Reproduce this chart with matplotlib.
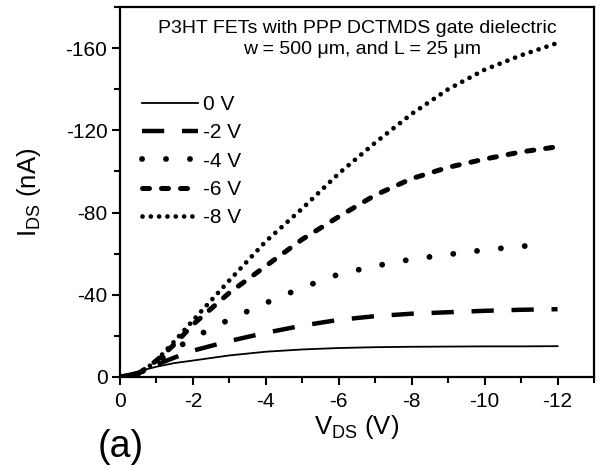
import numpy as np
import matplotlib
matplotlib.use("Agg")
import matplotlib.pyplot as plt
from matplotlib.ticker import MultipleLocator

plt.rcParams['font.family'] = ['Liberation Sans', 'DejaVu Sans']
plt.rcParams['axes.unicode_minus'] = False
plt.rcParams['mathtext.fontset'] = 'custom'
plt.rcParams['mathtext.rm'] = 'Liberation Sans'

# drain voltage (V) and drain current (nA)
vds = [0, -0.5, -1, -1.5, -2, -3, -4, -5, -6, -7, -8, -9, -10, -11, -12]
ids_0v = [0, -2.7, -5, -6.8, -8, -10.5, -12.3, -13.4, -14.1, -14.5, -14.7, -14.8, -14.9, -14.9, -15]
ids_2v = [0, -2, -6, -9.5, -12.8, -17.5, -21.5, -25, -27.8, -29.6, -30.8, -31.5, -32.2, -32.7, -33]
ids_4v = [0, -1.5, -7, -13.5, -19, -28, -36, -43.5, -50, -54, -57.3, -59.6, -61.8, -63.6, -64.6]
ids_6v = [0, -1.5, -8, -16, -25.5, -41, -54, -67, -78, -88.5, -96.5, -102, -106, -109.5, -112]
ids_8v = [0, -1, -8, -17.5, -27.5, -47, -66, -82, -99, -114, -128, -140, -149.5, -156.5, -162.5]
gate_labels = ['0 V', '-2 V', '-4 V', '-6 V', '-8 V']

fig = plt.figure(figsize=(6.01, 4.70), dpi=100)
ax = fig.add_axes([120/601, 93/470, 474/601, 370/470])

ax.plot(vds, ids_0v, color='black', lw=1.3, label=gate_labels[0])
ax.plot(vds, ids_2v, color='black', lw=3.2, linestyle=(0, (5, 4)),
        dash_capstyle='butt', label=gate_labels[1])
ax.plot(vds[:-1] + [-11.6], ids_4v[:-1] + [-64.2], color='black', lw=4.2,
        linestyle=(0, (0.01, 4.1)), dash_capstyle='round', label=gate_labels[2])
ax.plot(vds, ids_6v, color='black', lw=3.6, linestyle=(0, (1.4, 2.4)),
        dash_capstyle='round', label=gate_labels[3])
ax.plot(vds, ids_8v, color='black', lw=3.4, linestyle=(0, (0.01, 1.75)),
        dash_capstyle='round', label=gate_labels[4])

ax.set_xlim(0, -13)
ax.set_ylim(0, -180)
ax.xaxis.set_major_locator(MultipleLocator(2))
ax.xaxis.set_minor_locator(MultipleLocator(1))
ax.yaxis.set_major_locator(MultipleLocator(40))
ax.yaxis.set_minor_locator(MultipleLocator(20))
ax.tick_params(which='both', direction='out', width=1.5, labelsize=15)
ax.tick_params(axis='x', pad=5)
ax.tick_params(axis='y', pad=3)
ax.tick_params(which='major', length=6)
ax.tick_params(which='minor', length=4)
for sp in ax.spines.values():
    sp.set_linewidth(1.6)

ax.set_xlabel(r'$\mathregular{V_{DS}}$ (V)', fontsize=18.5, labelpad=1)
ax.set_ylabel(r'$\mathregular{I_{DS}}$ (nA)', fontsize=18.5, labelpad=16)

ax.text(0.5, 0.942, 'P3HT FETs with PPP DCTMDS gate dielectric',
        transform=ax.transAxes, ha='center', va='center', fontsize=14)
ax.text(0.51, 0.884, 'w = 500 μm, and L = 25 μm',
        transform=ax.transAxes, ha='center', va='center', fontsize=14)

ax.legend(loc='upper left', bbox_to_anchor=(0.028, 0.785), frameon=False,
          fontsize=15, handlelength=2.7, handletextpad=0.25, labelspacing=0.45,
          borderaxespad=0)

fig.text(98/601, 0.028, '(a)', fontsize=27, va='baseline', ha='left')

fig.savefig('out.png', dpi=100)
